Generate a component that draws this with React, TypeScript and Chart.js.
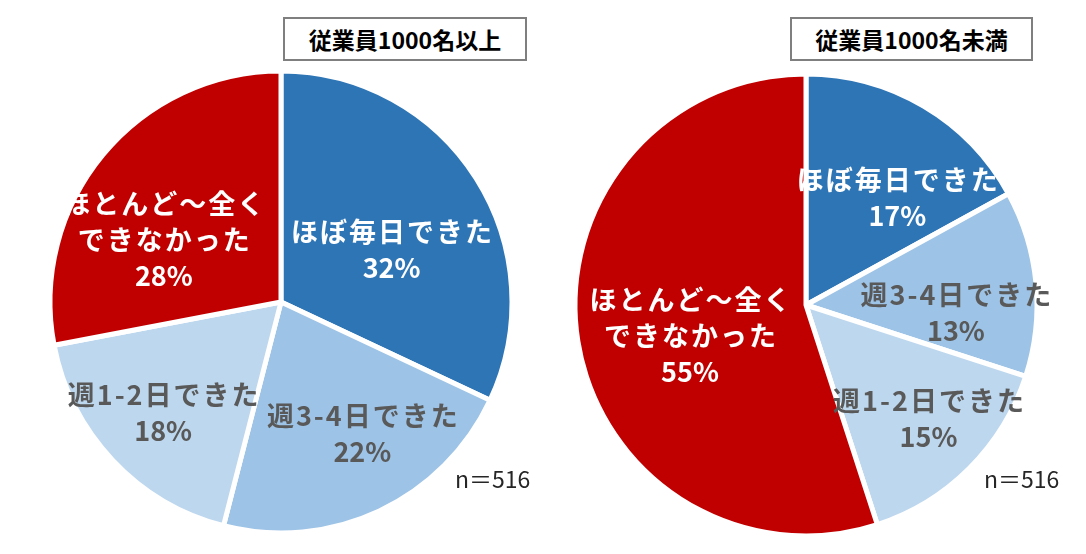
import { useEffect, useRef } from "react";
import Chart from "chart.js/auto";

const categories = ["ほぼ毎日できた", "週3-4日できた", "週1-2日できた", "ほとんど～全くできなかった"];
// how each category name is broken into lines inside its slice
const labelLines = [["ほぼ毎日できた"], ["週3-4日できた"], ["週1-2日できた"], ["ほとんど～全く", "できなかった"]];
const largeValues = [32, 22, 18, 28];
const smallValues = [17, 13, 15, 55];
const sampleSize = 516;

const sliceColors = ["#2E75B6", "#9DC3E6", "#BDD7EE", "#C00000"];
const textColors = ["#FFFFFF", "#595959", "#595959", "#FFFFFF"];
const FONT = "'Noto Sans CJK JP', 'Noto Sans', sans-serif";

// label placement: fraction of radius, and angle nudge in degrees
const largeLabelPos = [
  { r: 0.53, shift: 7 },
  { r: 0.67, shift: -6.5 },
  { r: 0.7, shift: 0 },
  { r: 0.575, shift: -11.5 },
];
const smallLabelPos = [
  { r: 0.61, shift: 9.8 },
  { r: 0.65, shift: 8.5 },
  { r: 0.725, shift: -2 },
  { r: 0.52, shift: -6 },
];

const sliceLabels = {
  id: "sliceLabels",
  afterDatasetsDraw(chart: any, _args: any, opts: any) {
    const ctx = chart.ctx;
    const meta = chart.getDatasetMeta(0);
    const values = chart.data.datasets[0].data;
    ctx.save();
    ctx.textAlign = "center";
    ctx.textBaseline = "middle";
    ctx.font = `bold 27px ${FONT}`;
    meta.data.forEach((arc: any, i: number) => {
      const p = arc.getProps(["x", "y", "startAngle", "endAngle", "outerRadius"], true);
      const pos = opts.positions[i];
      const a = (p.startAngle + p.endAngle) / 2 + (pos.shift * Math.PI) / 180;
      const cx = p.x + Math.cos(a) * p.outerRadius * pos.r;
      const cy = p.y + Math.sin(a) * p.outerRadius * pos.r;
      const lines = [...labelLines[i], values[i] + "%"];
      ctx.fillStyle = textColors[i];
      lines.forEach((t, j) => {
        const isPct = j === lines.length - 1;
        (ctx as any).letterSpacing = isPct ? "0px" : "2px";
        ctx.fillText(t, cx + (isPct ? 0 : 1), cy + (j - (lines.length - 1) / 2) * 36);
      });
    });
    ctx.restore();
  },
};

const PieChart = ({ values, positions, left, top }: any) => {
  const chartRef: any = useRef(null);
  useEffect(() => {
    const ctx = chartRef.current.getContext("2d");
    const theChart = new Chart(ctx, {
      type: "pie",
      data: {
        labels: categories,
        datasets: [
          {
            data: values,
            backgroundColor: sliceColors,
            borderColor: "#FFFFFF",
            borderWidth: 5,
            hoverOffset: 0,
          },
        ],
      },
      options: {
        responsive: true,
        maintainAspectRatio: false,
        animation: false,
        radius: 231,
        layout: { padding: 0 },
        plugins: {
          legend: { display: false },
          tooltip: { enabled: false },
          sliceLabels: { positions },
        } as any,
      },
      plugins: [sliceLabels],
    });
    return () => {
      theChart.destroy();
    };
  }, []);

  return (
    <div style={{ position: "absolute", left, top, width: 500, height: 500 }}>
      <canvas ref={chartRef} />
    </div>
  );
};

const titleStyle: any = {
  position: "absolute",
  top: 17,
  height: 40,
  border: "2px solid #7F7F7F",
  background: "#FFFFFF",
  fontFamily: FONT,
  fontWeight: "bold",
  fontSize: 23,
  lineHeight: "40px",
  textAlign: "center",
  color: "#000000",
  boxSizing: "content-box",
};

const noteStyle: any = {
  position: "absolute",
  top: 467,
  fontFamily: FONT,
  fontSize: 23,
  lineHeight: 1,
  color: "#262626",
  whiteSpace: "nowrap",
};

export default function App() {
  return (
    <div
      style={{
        position: "absolute",
        left: 0,
        top: 0,
        width: 1086,
        height: 554,
        background: "#FFFFFF",
        overflow: "hidden",
      }}
    >
      <PieChart values={largeValues} positions={largeLabelPos} left={31} top={52} />
      <PieChart values={smallValues} positions={smallLabelPos} left={556} top={55} />
      <div style={{ ...titleStyle, left: 283, width: 240 }}>従業員1000名以上</div>
      <div style={{ ...titleStyle, left: 790, width: 239 }}>従業員1000名未満</div>
      <div style={{ ...noteStyle, left: 455 }}>n＝{sampleSize}</div>
      <div style={{ ...noteStyle, left: 984 }}>n＝{sampleSize}</div>
    </div>
  );
}
